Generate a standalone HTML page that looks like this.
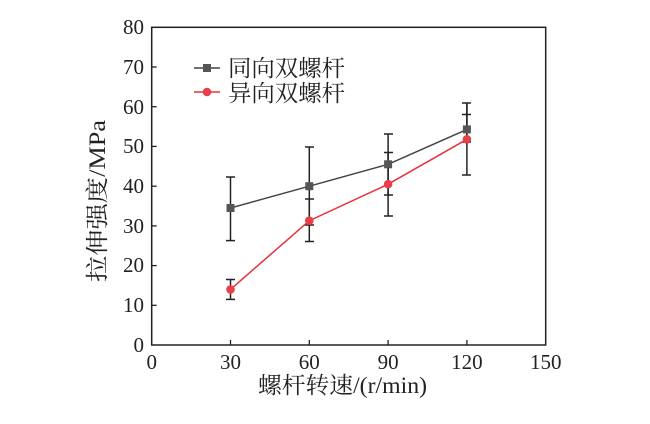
<!DOCTYPE html><html><head><meta charset="utf-8"><style>body{margin:0;background:#fff}</style></head><body>
<svg width="650" height="419" xmlns="http://www.w3.org/2000/svg" font-family="'Liberation Serif','Noto Serif CJK SC',serif" font-size="21" fill="#222">
<rect x="151.7" y="27.3" width="394" height="317.7" fill="none" stroke="#222" stroke-width="1.5"/>
<g stroke="#222" stroke-width="1.3">
<line x1="230.5" y1="345" x2="230.5" y2="340"/><line x1="309.3" y1="345" x2="309.3" y2="340"/><line x1="388.1" y1="345" x2="388.1" y2="340"/><line x1="466.9" y1="345" x2="466.9" y2="340"/>
<line x1="151.7" y1="305.3" x2="156.7" y2="305.3"/><line x1="151.7" y1="265.6" x2="156.7" y2="265.6"/><line x1="151.7" y1="225.9" x2="156.7" y2="225.9"/><line x1="151.7" y1="186.2" x2="156.7" y2="186.2"/><line x1="151.7" y1="146.4" x2="156.7" y2="146.4"/><line x1="151.7" y1="106.7" x2="156.7" y2="106.7"/><line x1="151.7" y1="67" x2="156.7" y2="67"/>
</g>
<g text-anchor="end">
<text x="144" y="352">0</text><text x="144" y="312">10</text><text x="144" y="272">20</text><text x="144" y="233">30</text><text x="144" y="193">40</text><text x="144" y="153">50</text><text x="144" y="114">60</text><text x="144" y="74">70</text><text x="144" y="34">80</text>
</g>
<g text-anchor="middle">
<text x="151.7" y="369">0</text><text x="230.5" y="369">30</text><text x="309.3" y="369">60</text><text x="388.1" y="369">90</text><text x="466.9" y="369">120</text><text x="545.7" y="369">150</text>
</g>
<text x="258" y="393" font-size="23" textLength="169" lengthAdjust="spacingAndGlyphs">螺杆转速/(r/min)</text>
<text transform="translate(105,282) rotate(-90)" font-size="23" textLength="162" lengthAdjust="spacingAndGlyphs">拉伸强度/MPa</text>
<g stroke="#222" stroke-width="1.5">
<line x1="230.5" y1="177" x2="230.5" y2="240.6"/><line x1="226" y1="177" x2="235" y2="177"/><line x1="226" y1="240.6" x2="235" y2="240.6"/>
<line x1="309.3" y1="147" x2="309.3" y2="225"/><line x1="305" y1="147" x2="314" y2="147"/><line x1="305" y1="225" x2="314" y2="225"/>
<line x1="388.1" y1="134" x2="388.1" y2="195"/><line x1="384" y1="134" x2="393" y2="134"/><line x1="384" y1="195" x2="393" y2="195"/>
<line x1="466.9" y1="103" x2="466.9" y2="144"/><line x1="462" y1="103" x2="471" y2="103"/><line x1="462" y1="114.5" x2="471" y2="114.5"/>
<line x1="230.5" y1="279.5" x2="230.5" y2="299.4"/><line x1="226" y1="279.5" x2="235" y2="279.5"/><line x1="226" y1="299.4" x2="235" y2="299.4"/>
<line x1="309.3" y1="199" x2="309.3" y2="241.5"/><line x1="305" y1="199" x2="314" y2="199"/><line x1="305" y1="241.5" x2="314" y2="241.5"/>
<line x1="388.1" y1="152.5" x2="388.1" y2="216"/><line x1="384" y1="152.5" x2="393" y2="152.5"/><line x1="384" y1="216" x2="393" y2="216"/>
<line x1="466.9" y1="104" x2="466.9" y2="175"/><line x1="462" y1="175" x2="471" y2="175"/><line x1="462" y1="142" x2="471" y2="142"/>
</g>
<polyline points="230.5,208 309.3,186.2 388.1,164.3 466.9,129.4" fill="none" stroke="#444" stroke-width="1.5"/>
<g fill="#555"><rect x="226.5" y="204" width="8" height="8"/><rect x="305.3" y="182.2" width="8" height="8"/><rect x="384.1" y="160.3" width="8" height="8"/><rect x="462.9" y="125.4" width="8" height="8"/></g>
<polyline points="230.5,289.4 309.3,220.7 388.1,184.2 466.9,139.3" fill="none" stroke="#e8303a" stroke-width="1.5"/>
<g fill="#e8404a"><circle cx="230.5" cy="289.4" r="4.3"/><circle cx="309.3" cy="220.7" r="4.3"/><circle cx="388.1" cy="184.2" r="4.3"/><circle cx="466.9" cy="139.3" r="4.3"/></g>
<line x1="194" y1="68" x2="220" y2="68" stroke="#444" stroke-width="1.5"/><rect x="203" y="64" width="8" height="8" fill="#555"/>
<line x1="194" y1="92" x2="220" y2="92" stroke="#e8303a" stroke-width="1.5"/><circle cx="207" cy="92" r="4.3" fill="#e8404a"/>
<text x="228" y="76" font-size="23" textLength="117" lengthAdjust="spacingAndGlyphs">同向双螺杆</text><text x="228" y="101" font-size="23" textLength="117" lengthAdjust="spacingAndGlyphs">异向双螺杆</text>
</svg>
</body></html>
